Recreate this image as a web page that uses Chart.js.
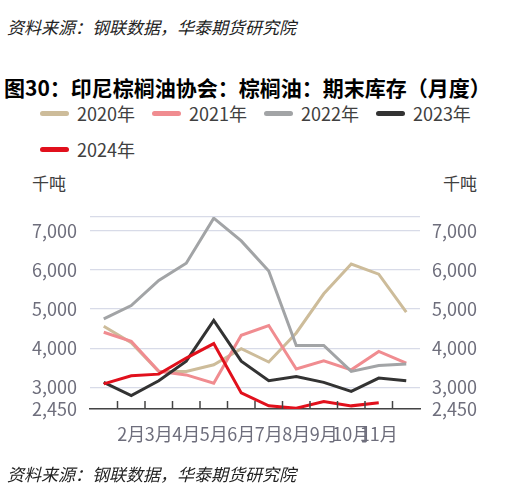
<!DOCTYPE html>
<html lang="zh">
<head>
  <meta charset="UTF-8" />
  <title>印尼棕榈油协会：棕榈油：期末库存</title>
  <style>
    body {
      margin: 0;
      width: 519px;
      height: 493px;
      background: #fff;
      font-family: 'Noto Sans CJK SC', 'Noto Sans', sans-serif;
      overflow: hidden;
      position: relative;
    }
    .src {
      position: absolute;
      left: 7px;
      font-size: 17px;
      font-style: italic;
      color: #222;
      line-height: 20px;
    }
    #title {
      position: absolute;
      left: 4px;
      top: 73px;
      font-size: 21px;
      font-weight: bold;
      color: #000;
      line-height: 28px;
      white-space: nowrap;
    }
    #legend {
      position: absolute;
      left: 40px;
      top: 95px;
      width: 470px;
      display: flex;
      flex-wrap: wrap;
      column-gap: 17px;
    }
    .item {
      display: flex;
      align-items: center;
      height: 36px;
      font-size: 18px;
      color: #404040;
    }
    .item span.line {
      width: 29px;
      height: 5px;
      border-radius: 2.5px;
      margin-right: 8px;
    }
    .unit {
      position: absolute;
      top: 172px;
      font-size: 17px;
      color: #404040;
      line-height: 22px;
    }
    #chart {
      position: absolute;
      left: 0;
      top: 0;
    }
  </style>
</head>
<body>
  <div class="src" style="top:17px">资料来源：钢联数据，华泰期货研究院</div>
  <div id="title">图30：印尼棕榈油协会：棕榈油：期末库存（月度）</div>
  <div id="legend"></div>
  <div class="unit" style="left:32px">千吨</div>
  <div class="unit" style="left:443px">千吨</div>
  <canvas id="chart" width="519" height="493"></canvas>
  <div class="src" style="top:464px">资料来源：钢联数据，华泰期货研究院</div>

  <script src="https://cdn.jsdelivr.net/npm/chart.js"></script>
  <script>
    const months = ['1月', '2月', '3月', '4月', '5月', '6月', '7月', '8月', '9月', '10月', '11月', '12月'];
    const yTicks = [2450, 3000, 4000, 5000, 6000, 7000, 7350];

    const s2020 = [4560, 4140, 3410, 3410, 3580, 3990, 3650, 4390, 5390, 6150, 5890, 4920];
    const s2021 = [4410, 4180, 3410, 3320, 3110, 4330, 4580, 3470, 3680, 3450, 3920, 3620];
    const s2022 = [4750, 5090, 5730, 6170, 7320, 6740, 5970, 4070, 4070, 3410, 3560, 3600];
    const s2023 = [3130, 2790, 3170, 3670, 4710, 3670, 3170, 3280, 3130, 2900, 3240, 3170];
    const s2024 = [3090, 3300, 3340, 3750, 4120, 2860, 2530, 2470, 2640, 2530, 2610];

    const seriesNames = ['2020年', '2021年', '2022年', '2023年', '2024年'];
    const seriesColors = ['#CDBC9A', '#F08C90', '#A2A4A6', '#333333', '#E1101C'];
    const seriesData = [s2020, s2021, s2022, s2023, s2024];

    // html legend
    const legendEl = document.getElementById('legend');
    seriesNames.forEach((name, i) => {
      const item = document.createElement('div');
      item.className = 'item';
      item.innerHTML = '<span class="line" style="background:' + seriesColors[i] + '"></span>' + name;
      legendEl.appendChild(item);
    });

    const tickColor = '#6e6e7c';
    const tickFont = { family: "'Noto Sans CJK SC', 'Noto Sans', sans-serif", size: 18 };

    // small tick marks pointing up from the x axis, between categories
    const innerTicks = {
      id: 'innerTicks',
      afterDraw(chart) {
        const x = chart.scales.x;
        const bottom = chart.chartArea.bottom;
        const c = chart.ctx;
        c.save();
        c.strokeStyle = '#444';
        c.lineWidth = 1.5;
        for (let i = 0; i < months.length - 1; i++) {
          const px = (x.getPixelForValue(i) + x.getPixelForValue(i + 1)) / 2;
          c.beginPath();
          c.moveTo(px, bottom);
          c.lineTo(px, bottom - 8);
          c.stroke();
        }
        c.restore();
      }
    };

    const ctx = document.getElementById('chart').getContext('2d');
    new Chart(ctx, {
      type: 'line',
      data: {
        labels: months,
        datasets: seriesData.map((d, i) => ({
          label: seriesNames[i],
          data: d,
          borderColor: seriesColors[i],
          backgroundColor: seriesColors[i],
          borderWidth: 3,
          pointRadius: 0,
          tension: 0,
          fill: false,
          yAxisID: 'y',
          order: i === 4 ? 0 : 5 - i
        }))
      },
      options: {
        responsive: false,
        animation: false,
        layout: { padding: { top: 217, left: 0, right: 0, bottom: 0 } },
        plugins: { legend: { display: false }, tooltip: { enabled: false } },
        scales: {
          x: {
            offset: true,
            grid: { display: false },
            border: { display: true, color: '#444', width: 1.5 },
            ticks: {
              color: tickColor,
              font: tickFont,
              padding: 6,
              autoSkip: false,
              maxRotation: 0,
              callback: (v, i) => (i === 0 || i === months.length - 1) ? '' : months[i]
            },
            afterFit: s => { s.height = 84; }
          },
          y: {
            position: 'left',
            min: 2450,
            max: 7350,
            afterBuildTicks: s => { s.ticks = yTicks.map(v => ({ value: v })); },
            grid: { color: '#d8dbe8', lineWidth: 1.2, drawTicks: false },
            border: { display: false },
            ticks: {
              color: tickColor,
              font: tickFont,
              padding: 13,
              autoSkip: false,
              callback: v => v === 7350 ? '' : v.toLocaleString('en-US')
            },
            afterFit: s => { s.width = 90; }
          },
          y2: {
            position: 'right',
            min: 2450,
            max: 7350,
            afterBuildTicks: s => { s.ticks = yTicks.map(v => ({ value: v })); },
            grid: { display: false, drawTicks: false },
            border: { display: false },
            ticks: {
              color: tickColor,
              font: tickFont,
              padding: 12,
              autoSkip: false,
              callback: v => v === 7350 ? '' : v.toLocaleString('en-US')
            },
            afterFit: s => { s.width = 99; }
          }
        }
      },
      plugins: [innerTicks]
    });
  </script>
</body>
</html>
